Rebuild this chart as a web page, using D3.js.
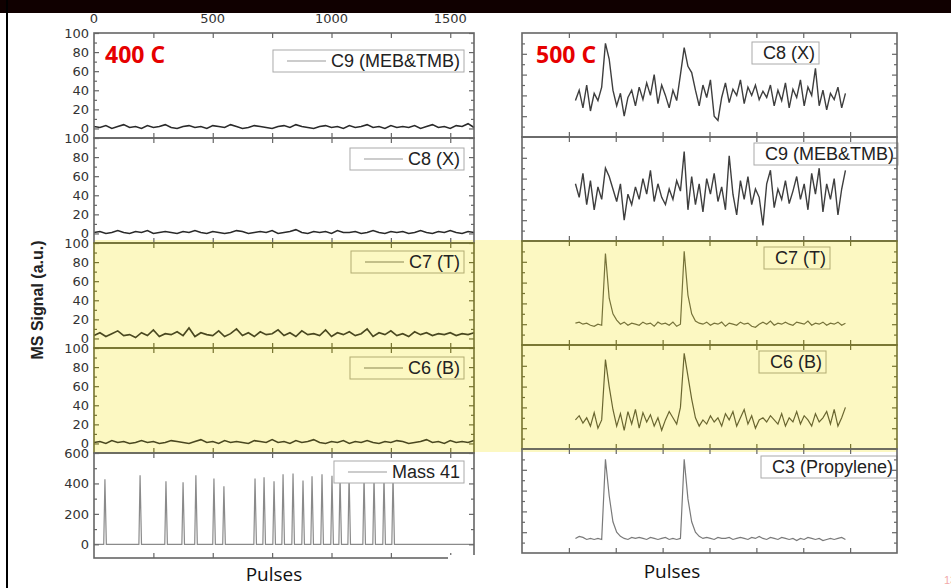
<!DOCTYPE html>
<html>
<head>
<meta charset="utf-8">
<script src="https://cdn.jsdelivr.net/npm/d3@7"></script>
<style>
body { margin: 0; background: #fff; }
svg text { font-family: "Liberation Sans", Arial, sans-serif; }
</style>
</head>
<body>
<svg width="951" height="588"></svg>
<script>
// ---------- data ----------
const leftNames = ["C9 (MEB&TMB)", "C8 (X)", "C7 (T)", "C6 (B)", "Mass 41"]
const rightNames = ["C8 (X)", "C9 (MEB&TMB)", "C7 (T)", "C6 (B)", "C3 (Propylene)"]
const leftTopTicks = [0, 500, 1000, 1500]

// 400 C traces, one value every 25 pulses from 0 to 1600
const leftX = d3.range(0, 1601, 25)
const leftC9 = [2,1,3,0,2,4,1,2,0,3, 1,2,4,1,0,2,3,1,2,0, 3,2,1,4,2,0,1,3,2,1, 0,2,3,1,4,2,1,0,2,3, 1,2,0,3,1,2,4,1,2,0, 3,1,2,1,3,0,2,4,1,2, 0,3,2,5,1]
const leftC8 = [1,2,0,1,3,1,0,2,1,3, 0,1,2,1,0,2,1,3,1,0, 2,1,0,1,3,2,0,1,2,1, 3,0,1,2,4,1,0,2,1,2, 0,3,1,1,2,0,1,3,1,0, 2,1,2,0,1,3,1,0,2,1, 3,1,0,2,1]
const leftC7 = [3,6,2,5,8,3,4,1,6,3, 9,2,5,4,7,3,11,2,6,4, 3,8,2,5,10,3,6,2,7,4, 5,9,3,6,2,8,4,5,3,9, 2,6,4,7,3,5,10,2,6,4, 8,3,5,2,7,4,6,3,5,4, 6,3,5,4,6]
const leftC6 = [1,2,0,3,1,2,0,1,3,1, 2,0,1,3,2,1,0,2,4,1, 2,0,3,1,2,1,0,3,2,1, 4,1,2,0,3,1,2,4,1,0, 2,1,3,0,2,1,3,1,0,2, 1,3,2,0,1,2,4,1,2,0, 3,1,2,1,3]
const mass41Pos = [46,194,303,375,429,505,547,678,716,758,796,838,880,918,960,1002,1036,1074,1137,1179,1221,1259]
const mass41Height = [427,453,414,407,453,433,381,433,440,414,460,466,420,447,460,450,445,455,450,448,452,455]

// 500 C traces, one value every 8 pulses from 114 to 690
const rightX = d3.range(114, 691, 8)
const rightC8 = [35,45,28,50,25,42,35,48,90,75, 45,30,42,20,38,45,30,48,36,52, 40,60,32,50,40,28,45,35,60,86, 68,62,45,30,50,38,55,20,16,38, 52,33,46,40,55,32,48,40,50,36, 44,38,50,30,45,35,52,28,46,38, 55,30,48,40,66,30,45,26,42,36, 48,28,42]
const rightC9 = [55,42,65,35,58,30,52,40,70,62, 50,38,55,20,45,35,52,40,60,45, 68,38,55,42,35,50,40,58,48,86, 30,62,35,55,28,60,45,65,38,52, 30,82,45,25,58,40,62,35,50,42, 15,55,68,32,50,40,58,36,48,62, 40,55,30,65,45,70,28,55,40,60, 25,50,68]
const rightC7 = [21,22,20,21,19,18,20,19,88,45, 30,24,20,22,19,21,20,19,22,20, 21,18,22,20,21,19,22,18,20,90, 48,30,23,21,20,22,19,21,20,22, 18,21,20,19,22,20,21,18,17,20, 22,20,23,19,21,20,22,20,19,22, 21,20,23,19,21,20,22,19,21,20, 22,19,21]
const rightC6 = [28,32,25,30,22,35,20,28,86,60, 38,22,34,18,36,24,38,20,35,26, 33,22,30,18,28,36,30,24,40,92, 70,48,30,22,28,24,32,26,30,22, 34,28,36,22,30,38,24,32,20,28, 30,26,32,28,24,34,22,30,26,36, 24,32,28,22,34,26,30,36,24,38, 22,30,40]
const rightC3 = [14,16,15,13,14,13,14,13,90,55, 30,20,16,14,13,15,14,15,14,13, 15,14,13,14,15,13,14,13,14,90, 52,30,20,16,14,15,14,13,15,14, 14,15,13,14,15,14,13,15,14,16, 14,13,15,14,13,15,14,13,14,12, 14,13,15,14,13,14,12,13,14,13, 14,15,13]

// ---------- layout ----------
const svg = d3.select("svg")
const yellow = "#fcf8c2"
const lx = d3.scaleLinear().domain([0, 1600]).range([94, 474])
const rx = d3.scaleLinear().domain([0, 800]).range([522, 897])
const leftTop = 33, leftH = 105
const rightTop = 33, rightH = 104
const leftLegendDy = [28, 21, 19, 20, 19]
const rightLegendDy = [20, 17, 17, 17, 18]
const rightLegendX = [763, 765, 775, 770, 772]

// yellow band behind C7 / C6 rows of both charts
svg.append("rect")
    .attr("x", 94).attr("y", 240)
    .attr("width", 897 - 94).attr("height", 452 - 240)
    .attr("fill", yellow)

function styleAxis(sel, color) {
    sel.select(".domain").remove()
    sel.selectAll(".tick line").attr("stroke", color).attr("stroke-width", 1.2)
    sel.selectAll(".tick text")
        .attr("fill", "#333")
        .style("font-family", "DejaVu Sans")
        .style("font-size", "13px")
}

function drawFrameAxes(g, x, y, top, bot, yMajor, yMinor, xMajor, color, labels) {
    const [x0, x1] = x.range()
    g.append("g").attr("transform", `translate(${x0},0)`)
        .call(d3.axisLeft(y).tickValues(yMajor).tickSize(-5).tickPadding(5)
            .tickFormat(labels ? d3.format("d") : ""))
        .call(s => styleAxis(s, color))
    g.append("g").attr("transform", `translate(${x0},0)`)
        .call(d3.axisLeft(y).tickValues(yMinor).tickSize(-3).tickFormat(""))
        .call(s => styleAxis(s, color))
    g.append("g").attr("transform", `translate(${x1},0)`)
        .call(d3.axisRight(y).tickValues(yMajor).tickSize(-5).tickFormat(""))
        .call(s => styleAxis(s, color))
    g.append("g").attr("transform", `translate(${x1},0)`)
        .call(d3.axisRight(y).tickValues(yMinor).tickSize(-3).tickFormat(""))
        .call(s => styleAxis(s, color))
    g.append("g").attr("transform", `translate(0,${top})`)
        .call(d3.axisTop(x).tickValues(xMajor).tickSize(-5).tickFormat(""))
        .call(s => styleAxis(s, color))
    g.append("g").attr("transform", `translate(0,${bot})`)
        .call(d3.axisBottom(x).tickValues(xMajor).tickSize(-5).tickFormat(""))
        .call(s => styleAxis(s, color))
    g.append("rect")
        .attr("x", x0).attr("y", top)
        .attr("width", x1 - x0).attr("height", bot - top)
        .attr("fill", "none").attr("stroke", color).attr("stroke-width", 1.6)
}

// ---------- left chart (400 C) ----------
const leftSeries = [leftC9, leftC8, leftC7, leftC6]
const mass41Points = [[0, 0]]
mass41Pos.forEach((p, k) => {
    mass41Points.push([p - 5, 0], [p, mass41Height[k]], [p + 6, 0])
})
mass41Points.push([1600, 0])

leftNames.forEach((name, i) => {
    const top = leftTop + i * leftH, bot = top + leftH
    const isYellow = i === 2 || i === 3
    const frame = isYellow ? "#76732f" : "#666"
    const y = d3.scaleLinear()
        .domain(i < 4 ? [-10, 100] : [-90, 600])
        .range([bot, top])
    const g = svg.append("g")

    const pts = i < 4 ? leftX.map((x, j) => [x, leftSeries[i][j]]) : mass41Points
    g.append("path")
        .datum(pts)
        .attr("fill", "none")
        .attr("stroke", i < 2 ? "#2a2a2a" : isYellow ? "#4a4820" : "#8a8a8a")
        .attr("stroke-width", i < 4 ? 1.6 : 1.2)
        .attr("d", d3.line().x(d => lx(d[0])).y(d => y(d[1])))

    // legend
    const lg = g.append("g")
    const cy = top + leftLegendDy[i]
    const t = lg.append("text")
        .attr("x", 460).attr("y", cy + 6)
        .attr("text-anchor", "end")
        .attr("fill", "#222")
        .style("font-size", "18px")
        .text(name)
    const tw = t.node().getComputedTextLength()
    const tx = 460 - tw
    lg.insert("rect", "text")
        .attr("x", tx - 58).attr("y", cy - 11)
        .attr("width", tw + 62).attr("height", 22)
        .attr("fill", isYellow ? yellow : "#fff")
        .attr("stroke", isYellow ? "#b2ac72" : "#aaa")
    lg.append("line")
        .attr("x1", tx - 44).attr("x2", tx - 5)
        .attr("y1", cy).attr("y2", cy)
        .attr("stroke", isYellow ? "#8a8650" : "#999")

    const yMajor = i < 4 ? d3.range(0, 101, 20) : d3.range(0, 601, 200)
    const yMinor = i < 4 ? d3.range(10, 100, 20) : d3.range(100, 600, 200)
    drawFrameAxes(g, lx, y, top, bot, yMajor, yMinor, d3.range(250, 1600, 250), frame, true)
})

// top tick labels of the left chart (partly hidden under the slide bar)
svg.append("g").selectAll("text")
    .data(leftTopTicks)
    .join("text")
    .attr("x", d => lx(d))
    .attr("y", 23)
    .attr("text-anchor", "middle")
    .attr("fill", "#333")
    .style("font-family", "DejaVu Sans")
    .style("font-size", "13px")
    .text(d => d)

// ---------- right chart (500 C) ----------
const rightSeries = [rightC8, rightC9, rightC7, rightC6, rightC3]
const rightColors = ["#3e3e3e", "#3e3e3e", "#77733a", "#6a6630", "#7a7a7a"]

rightNames.forEach((name, i) => {
    const top = rightTop + i * rightH, bot = top + rightH
    const isYellow = i === 2 || i === 3
    const frame = isYellow ? "#76732f" : "#666"
    const y = d3.scaleLinear().domain([0, 100]).range([bot, top])
    const g = svg.append("g")

    g.append("path")
        .datum(rightX.map((x, j) => [x, rightSeries[i][j]]))
        .attr("fill", "none")
        .attr("stroke", rightColors[i])
        .attr("stroke-width", i < 2 ? 1.4 : 1.2)
        .attr("d", d3.line().x(d => rx(d[0])).y(d => y(d[1])))

    const cy = top + rightLegendDy[i]
    const lg = g.append("g")
    const t = lg.append("text")
        .attr("x", rightLegendX[i]).attr("y", cy + 6)
        .attr("fill", "#222")
        .style("font-size", "18px")
        .text(name)
    const tw = t.node().getComputedTextLength()
    lg.insert("rect", "text")
        .attr("x", rightLegendX[i] - 11).attr("y", cy - 11)
        .attr("width", tw + 15).attr("height", 22)
        .attr("fill", isYellow ? yellow : "#fff")
        .attr("stroke", isYellow ? "#b2ac72" : "#aaa")

    drawFrameAxes(g, rx, y, top, bot, d3.range(20, 100, 20), d3.range(10, 100, 20),
        d3.range(100, 800, 100), frame, false)
})

// ---------- annotations ----------
svg.append("text")
    .attr("x", 105).attr("y", 63)
    .attr("fill", "#e60000")
    .style("font-family", "Open Sans")
    .style("font-weight", "bold")
    .style("font-size", "23px")
    .text("400 C")
svg.append("text")
    .attr("x", 536).attr("y", 63)
    .attr("fill", "#e60000")
    .style("font-family", "Open Sans")
    .style("font-weight", "bold")
    .style("font-size", "23px")
    .text("500 C")

svg.append("text")
    .attr("transform", "translate(43,300) rotate(-90)")
    .attr("text-anchor", "middle")
    .attr("fill", "#222")
    .style("font-weight", "bold")
    .style("font-size", "16px")
    .text("MS Signal (a.u.)")

svg.append("text")
    .attr("x", 274).attr("y", 581)
    .attr("text-anchor", "middle")
    .attr("fill", "#111")
    .style("font-family", "Open Sans")
    .style("font-size", "19px")
    .text("Pulses")
svg.append("text")
    .attr("x", 672).attr("y", 578)
    .attr("text-anchor", "middle")
    .attr("fill", "#111")
    .style("font-family", "Open Sans")
    .style("font-size", "19px")
    .text("Pulses")

// white patch over the left chart's bottom-right corner
svg.append("rect").attr("x", 448).attr("y", 555).attr("width", 32).attr("height", 8).attr("fill", "#fff")

// slide number, cut at the page edge
svg.append("text")
    .attr("x", 944).attr("y", 584)
    .attr("fill", "#f2aaaa")
    .style("font-size", "11px")
    .text("13")

// slide frame: black bar on top, black line on the left
svg.append("rect").attr("x", 0).attr("y", 0).attr("width", 951).attr("height", 13).attr("fill", "#100000")
svg.append("rect").attr("x", 6).attr("y", 0).attr("width", 2).attr("height", 588).attr("fill", "#000")
</script>
</body>
</html>
